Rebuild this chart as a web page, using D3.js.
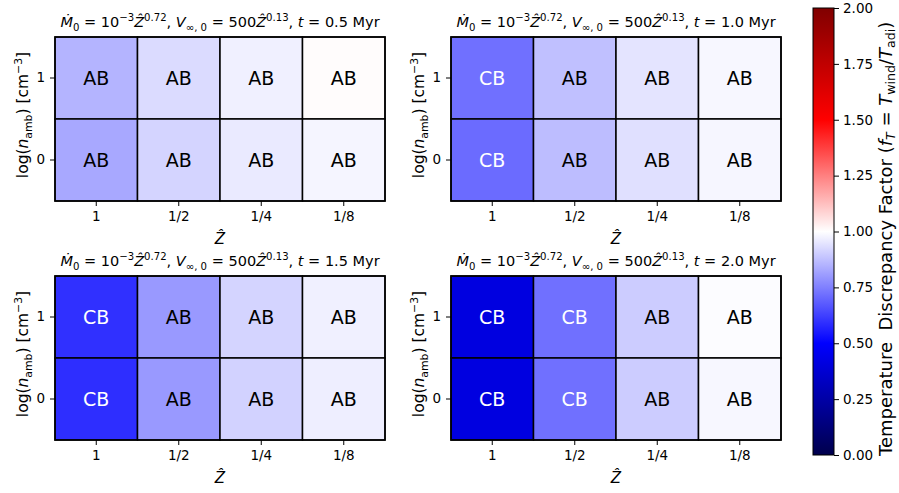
<!DOCTYPE html>
<html>
<head>
<meta charset="utf-8">
<script src="https://cdn.jsdelivr.net/npm/d3@7"></script>
<style>
  body { margin: 0; background: #fff; }
  text { font-family: "DejaVu Sans", sans-serif; fill: #000; white-space: pre; }
</style>
</head>
<body>
<div id="chart"></div>
<script>
// metallicity columns and density rows
const zLabels = ["1", "1/2", "1/4", "1/8"];
const nambRows = [1, 0];
const times = ["0.5", "1.0", "1.5", "2.0"];

// temperature discrepancy factor f_T, rows: log n_amb = 1, then 0
const fT_t05 = [[0.853, 0.93, 0.97, 1.006], [0.83, 0.916, 0.958, 0.98]];
const fT_t10 = [[0.72, 0.876, 0.947, 0.985], [0.71, 0.87, 0.94, 0.982]];
const fT_t15 = [[0.594, 0.80, 0.916, 0.97], [0.59, 0.80, 0.912, 0.967]];
const fT_t20 = [[0.414, 0.72, 0.90, 0.995], [0.414, 0.72, 0.90, 0.985]];

// bubble regime labels
const reg_t05 = [["AB", "AB", "AB", "AB"], ["AB", "AB", "AB", "AB"]];
const reg_t10 = [["CB", "AB", "AB", "AB"], ["CB", "AB", "AB", "AB"]];
const reg_t15 = [["CB", "AB", "AB", "AB"], ["CB", "AB", "AB", "AB"]];
const reg_t20 = [["CB", "CB", "AB", "AB"], ["CB", "CB", "AB", "AB"]];

const cbTicks = [0, 0.25, 0.5, 0.75, 1.0, 1.25, 1.5, 1.75, 2.0];

const panels = [
  { t: times[0], f: fT_t05, r: reg_t05, x: 55, y: 37 },
  { t: times[1], f: fT_t10, r: reg_t10, x: 451, y: 37 },
  { t: times[2], f: fT_t15, r: reg_t15, x: 55, y: 276 },
  { t: times[3], f: fT_t20, r: reg_t20, x: 451, y: 276 },
];

const W = 899, H = 493;
const pw = 330, ph = 164;

// matplotlib "seismic"
const seismic = d3.scaleLinear()
  .domain([0, 0.5, 1, 1.5, 2])
  .range(["#00004c", "#0000ff", "#ffffff", "#ff0000", "#800000"])
  .clamp(true);

const svg = d3.select("#chart").append("svg")
  .attr("width", W).attr("height", H);

// draws text with italic / sub / sup pieces
function rich(sel, segs, size, subShift) {
  let shift = 0;
  sel.style("font-size", size + "px");
  segs.forEach((s) => {
    let target = 0, fs = size;
    if (s.sub) { target = size * (subShift || 0.25); fs = size * 0.7; }
    if (s.sup) { target = -size * 0.4; fs = size * 0.7; }
    sel.append("tspan")
      .attr("dy", target - shift)
      .style("font-size", fs + "px")
      .style("font-style", s.i ? "italic" : "normal")
      .text(s.t);
    shift = target;
  });
}

function titleSegs(t) {
  return [
    { t: "Ṁ", i: true }, { t: "0", sub: true }, { t: " = 10" }, { t: "−3", sup: true },
    { t: "Ẑ", i: true }, { t: "0.72", sup: true }, { t: ", " },
    { t: "V", i: true }, { t: "∞, 0", sub: true }, { t: " = 500" },
    { t: "Ẑ", i: true }, { t: "0.13", sup: true }, { t: ", " },
    { t: "t", i: true }, { t: " = " + t + " Myr" },
  ];
}

panels.forEach((p) => {
  const g = svg.append("g").attr("transform", "translate(" + p.x + "," + p.y + ")");
  const x = d3.scaleBand().domain(zLabels).range([0, pw]);
  const y = d3.scaleBand().domain(nambRows).range([0, ph]);

  const cells = [];
  nambRows.forEach((n, ri) => {
    zLabels.forEach((z, ci) => {
      cells.push({ z: z, n: n, v: p.f[ri][ci], lab: p.r[ri][ci] });
    });
  });

  g.selectAll("rect.cell").data(cells).enter().append("rect")
    .attr("class", "cell")
    .attr("x", (d) => x(d.z)).attr("y", (d) => y(d.n))
    .attr("width", x.bandwidth()).attr("height", y.bandwidth())
    .attr("fill", (d) => seismic(d.v))
    .attr("stroke", "#000").attr("stroke-width", 1.5);

  g.selectAll("text.lab").data(cells).enter().append("text")
    .attr("class", "lab")
    .attr("x", (d) => x(d.z) + x.bandwidth() / 2)
    .attr("y", (d) => y(d.n) + y.bandwidth() / 2)
    .attr("text-anchor", "middle").attr("dy", "0.36em")
    .style("font-size", "19px")
    .style("fill", (d) => d.lab === "CB" ? "#fff" : "#000")
    .text((d) => d.lab);

  g.append("rect").attr("width", pw).attr("height", ph)
    .attr("fill", "none").attr("stroke", "#000").attr("stroke-width", 1.5);

  const xa = g.append("g").attr("transform", "translate(0," + ph + ")")
    .call(d3.axisBottom(x).tickSize(5).tickPadding(5));
  const ya = g.append("g").call(d3.axisLeft(y).tickSize(5).tickPadding(5));
  [xa, ya].forEach((a) => {
    a.select(".domain").remove();
    a.selectAll("text").style("font-size", "13.5px").style("font-family", "DejaVu Sans");
    a.selectAll("line").attr("stroke", "#000").attr("stroke-width", 1);
  });

  const tt = g.append("text").attr("x", pw / 2).attr("y", -10)
    .attr("text-anchor", "middle");
  rich(tt, titleSegs(p.t), 14.5);

  g.append("text").attr("x", pw / 2).attr("y", ph + 43)
    .attr("text-anchor", "middle").style("font-size", "15px")
    .style("font-style", "italic").text("Ẑ");

  const yl = g.append("text")
    .attr("transform", "translate(-27," + (ph / 2 - 4) + ") rotate(-90)")
    .attr("text-anchor", "middle");
  rich(yl, [{ t: "log(" }, { t: "n", i: true }, { t: "amb", sub: true },
    { t: ") [cm" }, { t: "−3", sup: true }, { t: "]" }], 15.5);
});

// colorbar
const cbX = 813, cbY = 8, cbW = 21, cbH = 447;
const cy = d3.scaleLinear().domain([0, 2]).range([cbY + cbH, cbY]);
const defs = svg.append("defs");
const grad = defs.append("linearGradient").attr("id", "cbgrad")
  .attr("x1", 0).attr("y1", 1).attr("x2", 0).attr("y2", 0);
d3.range(0, 2.0001, 0.05).forEach((v) => {
  grad.append("stop").attr("offset", v / 2).attr("stop-color", seismic(v));
});
svg.append("rect").attr("x", cbX).attr("y", cbY).attr("width", cbW).attr("height", cbH)
  .attr("fill", "url(#cbgrad)").attr("stroke", "#000").attr("stroke-width", 1);

const ca = svg.append("g").attr("transform", "translate(" + (cbX + cbW) + ",0)")
  .call(d3.axisRight(cy).tickValues(cbTicks).tickFormat(d3.format(".2f")).tickSize(5).tickPadding(4));
ca.select(".domain").remove();
ca.selectAll("text").style("font-size", "13.5px").style("font-family", "DejaVu Sans");
ca.selectAll("line").attr("stroke", "#000");

const cl = svg.append("text")
  .attr("transform", "translate(892," + (cbY + cbH + 1) + ") rotate(-90)")
  .attr("text-anchor", "start");
rich(cl, [{ t: "Temperature  Discrepancy Factor (" }, { t: "f", i: true }, { t: "T", sub: true, i: true },
  { t: " = " }, { t: "T", i: true }, { t: "wind", sub: true }, { t: "/" },
  { t: "T", i: true }, { t: "adi", sub: true }, { t: ")" }], 18, 0.15);
</script>
</body>
</html>
